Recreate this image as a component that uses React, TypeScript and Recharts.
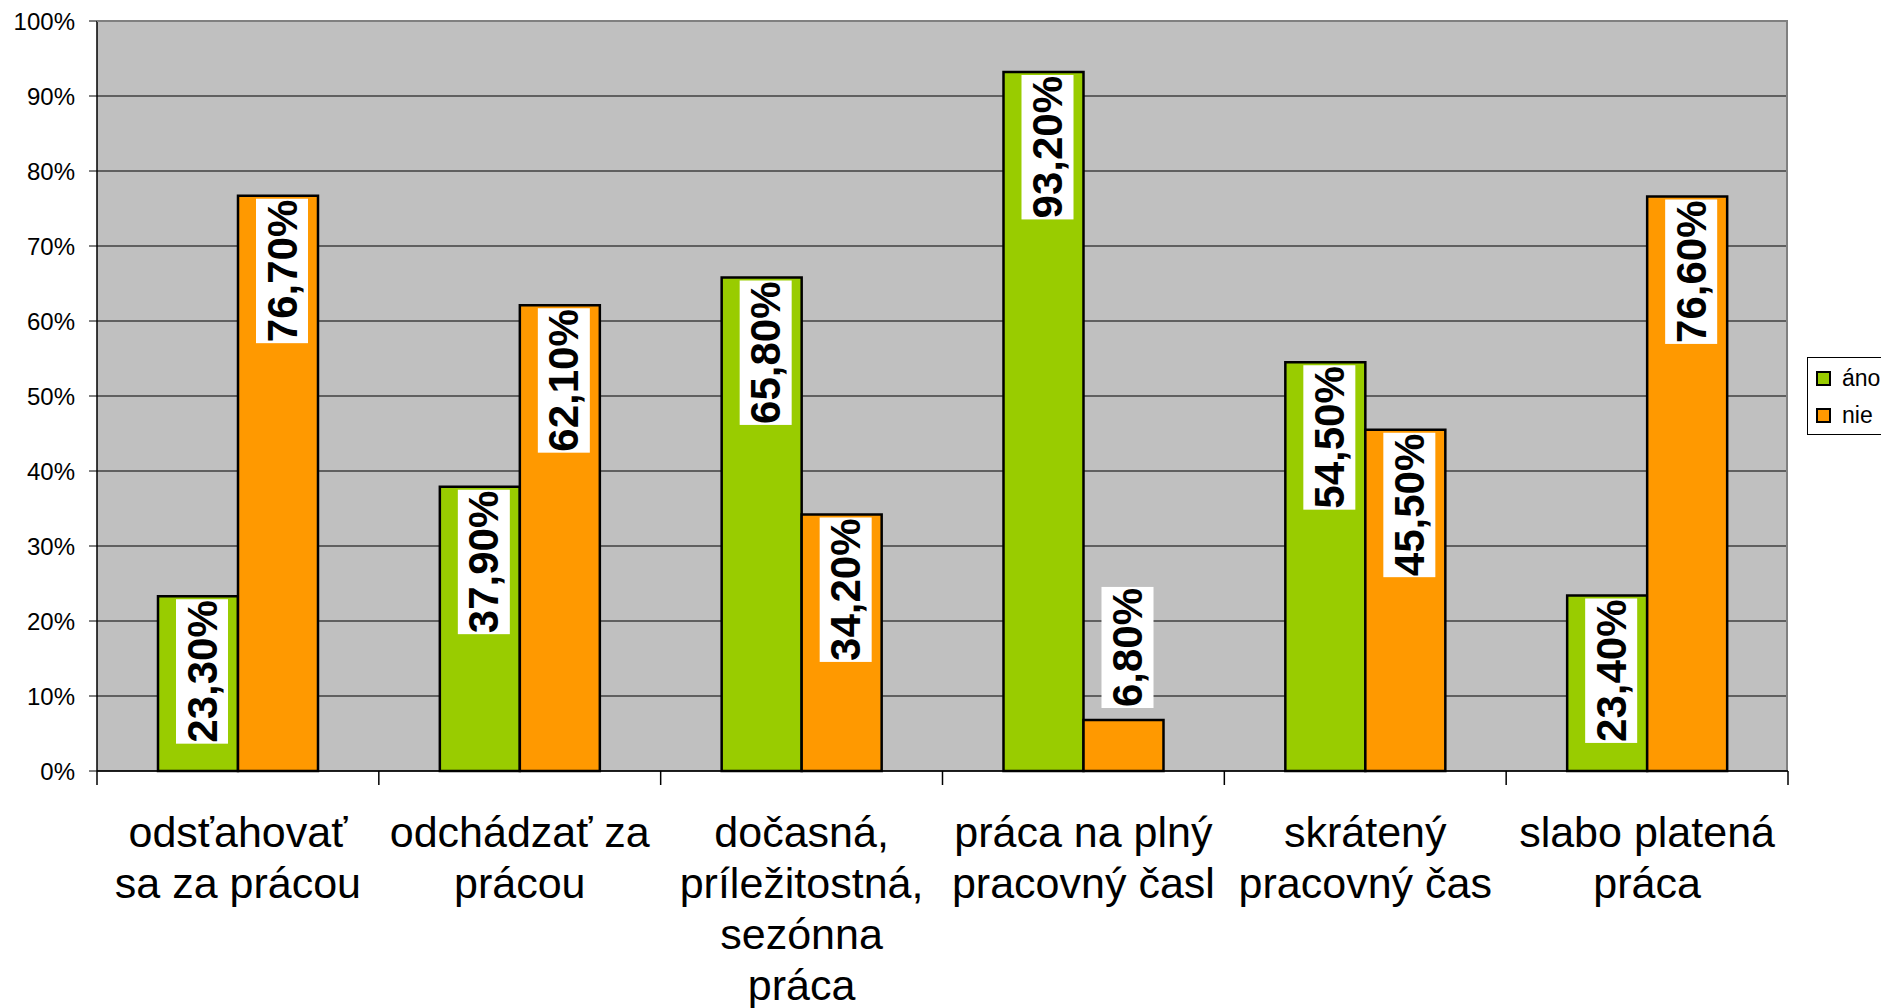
import { Bar, BarChart, CartesianGrid, Legend, XAxis, YAxis } from "recharts";

const categories = [
  "odsťahovať\nsa za prácou",
  "odchádzať za\nprácou",
  "dočasná,\npríležitostná,\nsezónna\npráca",
  "práca na plný\npracovný časl",
  "skrátený\npracovný čas",
  "slabo platená\npráca",
];
const ano = [23.3, 37.9, 65.8, 93.2, 54.5, 23.4];
const nie = [76.7, 62.1, 34.2, 6.8, 45.5, 76.6];
const yTicks = [0, 10, 20, 30, 40, 50, 60, 70, 80, 90, 100];

const data = categories.map((name, i) => ({ name, ano: ano[i], nie: nie[i] }));

const W = 1881;
const H = 1008;
const PLOT_LEFT = 97;
const PLOT_TOP = 21;
const PLOT_RIGHT = 1788;
const PLOT_BOTTOM = 771;
const PLOT_W = PLOT_RIGHT - PLOT_LEFT;
const FONT = "'Liberation Sans', Arial, sans-serif";

// rough Arial bold widths, used to size the white label boxes
const charW = (c: string) => (c === "," ? 0.278 : c === "%" ? 0.889 : 0.556);
const textLen = (s: string, size: number) =>
  s.split("").reduce((a, c) => a + charW(c), 0) * size;

const fmt = (v: number) => v.toFixed(2).replace(".", ",") + "%";

const renderLabel = (props: any) => {
  const { x, y, width, height, value } = props;
  const text = fmt(Number(value));
  const boxH = textLen(text, 42) + 2;
  const boxW = 52;
  const cx = Number(x) + Number(width) / 2 + 4;
  const inside = Number(height) >= boxH + 6;
  const top = inside ? Number(y) + 3 : Number(y) - 12 - boxH;
  return (
    <g>
      <rect x={cx - boxW / 2} y={top} width={boxW} height={boxH} fill="#fff" />
      <text
        transform={`translate(${cx},${top + 1}) rotate(-90)`}
        textAnchor="end"
        dominantBaseline="central"
        fontFamily={FONT}
        fontWeight="bold"
        fontSize={42}
        fill="#000"
      >
        {text}
      </text>
    </g>
  );
};

const CategoryTick = (props: any) => {
  const { x, payload, index } = props;
  const band = PLOT_W / categories.length;
  const lines = String(payload.value).split("\n");
  return (
    <g>
      <line x1={x - band / 2} x2={x - band / 2} y1={PLOT_BOTTOM} y2={PLOT_BOTTOM + 14} stroke="#000" strokeWidth={1.5} />
      {index === categories.length - 1 && (
        <line x1={x + band / 2} x2={x + band / 2} y1={PLOT_BOTTOM} y2={PLOT_BOTTOM + 14} stroke="#000" strokeWidth={1.5} />
      )}
      <text x={x} y={PLOT_BOTTOM + 76} textAnchor="middle" fontFamily={FONT} fontSize={43} fill="#000">
        {lines.map((l, i) => (
          <tspan key={i} x={x} dy={i === 0 ? 0 : 51}>
            {l}
          </tspan>
        ))}
      </text>
    </g>
  );
};

const LegendBox = () => (
  <div
    style={{
      border: "1px solid #000",
      background: "#fff",
      width: 90,
      height: 78,
      fontFamily: FONT,
      fontSize: 23,
      boxSizing: "border-box",
      paddingLeft: 8,
      paddingTop: 6,
    }}
  >
    {[
      ["áno", "#99CC00"],
      ["nie", "#FF9900"],
    ].map(([label, color]) => (
      <div key={label} style={{ display: "flex", alignItems: "center", height: 28, marginBottom: 9 }}>
        <span
          style={{
            display: "inline-block",
            width: 11,
            height: 11,
            background: color,
            border: "2px solid #000",
            marginRight: 11,
          }}
        />
        <span>{label}</span>
      </div>
    ))}
  </div>
);

const App = () => {
  return (
    <div style={{ width: W, height: H, overflow: "hidden", position: "relative", background: "#fff" }}>
      <style>{"body{margin:0}"}</style>
      <BarChart
        width={W}
        height={H}
        data={data}
        margin={{ top: PLOT_TOP, right: W - PLOT_RIGHT, left: 0, bottom: 0 }}
        barSize={80}
        barGap={0}
      >
        <CartesianGrid vertical={false} stroke="#000" strokeWidth={1} fill="#C0C0C0" />
        <XAxis
          dataKey="name"
          height={H - PLOT_BOTTOM}
          interval={0}
          tickLine={false}
          axisLine={{ stroke: "#000", strokeWidth: 1.5 }}
          tick={<CategoryTick />}
        />
        <YAxis
          width={PLOT_LEFT}
          domain={[0, 100]}
          ticks={yTicks}
          tickFormatter={(v: number) => `${v}%`}
          tickSize={8}
          tickMargin={14}
          axisLine={{ stroke: "#000", strokeWidth: 1.5 }}
          tickLine={{ stroke: "#000" }}
          tick={{ fill: "#000", fontSize: 24, fontFamily: FONT }}
        />
        <Legend
          layout="vertical"
          align="center"
          verticalAlign="middle"
          content={<LegendBox />}
          wrapperStyle={{ left: 1807, top: 357, width: 90 }}
        />
        <Bar dataKey="ano" name="áno" fill="#99CC00" stroke="#000" strokeWidth={2.5} isAnimationActive={false} label={renderLabel} />
        <Bar dataKey="nie" name="nie" fill="#FF9900" stroke="#000" strokeWidth={2.5} isAnimationActive={false} label={renderLabel} />
      </BarChart>
      <div
        style={{
          position: "absolute",
          left: PLOT_LEFT,
          top: PLOT_TOP - 1,
          width: PLOT_W,
          height: PLOT_BOTTOM - PLOT_TOP,
          borderTop: "2px solid #808080",
          borderRight: "2px solid #808080",
          boxSizing: "border-box",
          pointerEvents: "none",
        }}
      />
    </div>
  );
};

export default App;
